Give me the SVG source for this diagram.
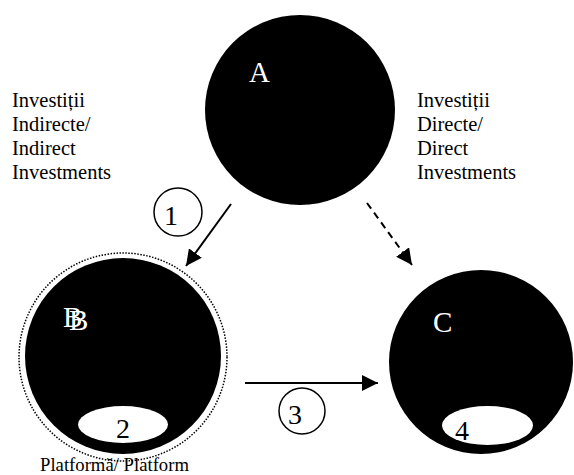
<svg xmlns="http://www.w3.org/2000/svg" width="574" height="475" viewBox="0 0 574 475">
<defs>
<style>
.t{font-family:"Liberation Serif","Times New Roman",serif;font-size:20.5px;fill:#000}
.p{font-family:"Liberation Serif","Times New Roman",serif;font-size:18.7px;fill:#000}
.w{font-family:"Liberation Serif","Times New Roman",serif;font-size:29px;fill:#fff}
.n{font-family:"Liberation Serif","Times New Roman",serif;font-size:28px;fill:#000}
.blob{fill:#000}
.hole{fill:#fff}
.ln{stroke:#000;stroke-width:2;fill:none}
</style>
<marker id="ahb" viewBox="0 0 10 10" refX="10" refY="5" markerWidth="16" markerHeight="16" markerUnits="userSpaceOnUse" orient="auto">
<path d="M0,0 L10,5 L0,10 z" fill="#000"/>
</marker>
</defs>
<g id="labels">
<text class="t" x="12" y="107">Investiții</text>
<text class="t" x="12" y="131">Indirecte/</text>
<text class="t" x="12" y="155">Indirect</text>
<text class="t" x="12" y="179">Investments</text>
<text class="t" x="417" y="107">Investiții</text>
<text class="t" x="417" y="131">Directe/</text>
<text class="t" x="417" y="155">Direct</text>
<text class="t" x="417" y="179">Investments</text>
</g>
<g id="nodeA">
<circle class="blob" cx="300" cy="110" r="95"/>
<text class="w" x="249" y="82">A</text>
</g>
<g id="nodeB">
<circle cx="123" cy="357" r="104" fill="none" stroke="#000" stroke-width="1.5" stroke-dasharray="1.5 1.5"/>
<circle class="blob" cx="123" cy="356" r="98"/>
<text class="w" x="63" y="327">B</text>
<text class="w" x="69" y="330">B</text>
<ellipse class="hole" cx="123" cy="424.5" rx="45" ry="18.5"/>
<text class="n" x="116" y="438">2</text>
<text class="p" x="40" y="471">Platformă/ Platform</text>
</g>
<g id="nodeC">
<circle class="blob" cx="481" cy="362" r="92"/>
<text class="w" x="433" y="332">C</text>
<ellipse class="hole" cx="487.5" cy="425.5" rx="45.5" ry="19.5"/>
<text class="n" x="455" y="440">4</text>
</g>
<g id="connectors">
<line class="ln" x1="231" y1="204" x2="186" y2="266" marker-end="url(#ahb)"/>
<line class="ln" x1="367" y1="203" x2="412" y2="265" stroke-dasharray="7 5" marker-end="url(#ahb)"/>
<line class="ln" x1="245" y1="383" x2="378" y2="383" marker-end="url(#ahb)"/>
</g>
<g id="steps">
<circle cx="178" cy="212" r="24" fill="none" stroke="#000" stroke-width="1.5"/>
<text class="n" x="164" y="225">1</text>
<circle cx="302" cy="411" r="23" fill="none" stroke="#000" stroke-width="1.5"/>
<text class="n" x="288" y="424">3</text>
</g>
</svg>
